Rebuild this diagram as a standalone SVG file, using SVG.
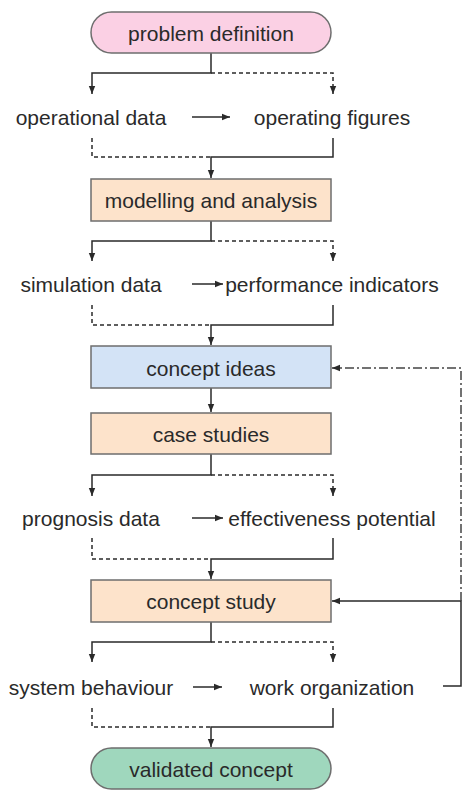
<svg xmlns="http://www.w3.org/2000/svg" width="463" height="790" viewBox="0 0 463 790">
<style>
  .lbl{font-family:"Liberation Sans",Arial,sans-serif;font-size:21px;fill:#2a2a2a;text-anchor:middle;dominant-baseline:central}
  .box{stroke:#6e6e6e;stroke-width:1.5}
  .s{fill:none;stroke:#2a2a2a;stroke-width:1.5}
  .d{fill:none;stroke:#2a2a2a;stroke-width:1.5;stroke-dasharray:4 3}
  .dd{fill:none;stroke:#444;stroke-width:1.5;stroke-dasharray:9 3 2 3}
</style>
<defs>
  <marker id="ah" markerUnits="userSpaceOnUse" markerWidth="8" markerHeight="8" viewBox="0 0 8 8" refX="8" refY="4" orient="auto">
    <path d="M0,0.8 L8,4 L0,7.2 Z" fill="#2a2a2a"/>
  </marker>
</defs>
<rect width="463" height="790" fill="#fff"/>

<g id="connectors">
  <!-- problem definition -> split -->
  <path class="s" d="M211,53 V73 H92 V94" marker-end="url(#ah)"/>
  <path class="d" d="M211,73 H333 V94" marker-end="url(#ah)"/>
  <path class="s" d="M192,117 H230" marker-end="url(#ah)"/>
  <path class="d" d="M92,138 V157 H211"/>
  <path class="s" d="M333,138 V157 H211 V178" marker-end="url(#ah)"/>

  <path class="s" d="M211,221 V241 H92 V261" marker-end="url(#ah)"/>
  <path class="d" d="M211,241 H333 V261" marker-end="url(#ah)"/>
  <path class="s" d="M192,284 H223" marker-end="url(#ah)"/>
  <path class="d" d="M92,305 V325 H211"/>
  <path class="s" d="M333,305 V325 H211 V345" marker-end="url(#ah)"/>

  <path class="s" d="M211,388 V412" marker-end="url(#ah)"/>

  <path class="s" d="M211,454 V475 H92 V496" marker-end="url(#ah)"/>
  <path class="d" d="M211,475 H333 V496" marker-end="url(#ah)"/>
  <path class="s" d="M192,518 H223" marker-end="url(#ah)"/>
  <path class="d" d="M92,538 V559 H211"/>
  <path class="s" d="M333,538 V559 H211 V579" marker-end="url(#ah)"/>

  <path class="s" d="M211,622 V642 H92 V662" marker-end="url(#ah)"/>
  <path class="d" d="M211,642 H333 V662" marker-end="url(#ah)"/>
  <path class="s" d="M193,687 H222" marker-end="url(#ah)"/>
  <path class="d" d="M92,708 V727 H211"/>
  <path class="s" d="M333,708 V727 H211 V747" marker-end="url(#ah)"/>

  <!-- feedback -->
  <path class="s" d="M443,686 H461 V601 H332" marker-end="url(#ah)"/>
  <path class="dd" d="M461,601 V368 H332" marker-end="url(#ah)"/>
</g>

<g id="problem-definition">
  <rect class="box" x="91" y="12" width="240" height="41" rx="20.5" fill="#fbd0e4"/>
  <text class="lbl" x="211" y="33">problem definition</text>
</g>
<g id="operational-data"><text class="lbl" x="91" y="117">operational data</text></g>
<g id="operating-figures"><text class="lbl" x="332" y="117">operating figures</text></g>

<g id="modelling-and-analysis">
  <rect class="box" x="91" y="179" width="240" height="42" fill="#fde3cb"/>
  <text class="lbl" x="211" y="200">modelling and analysis</text>
</g>
<g id="simulation-data"><text class="lbl" x="91" y="284">simulation data</text></g>
<g id="performance-indicators"><text class="lbl" x="332" y="284">performance indicators</text></g>

<g id="concept-ideas">
  <rect class="box" x="91" y="346" width="240" height="42" fill="#d3e3f6"/>
  <text class="lbl" x="211" y="368">concept ideas</text>
</g>

<g id="case-studies">
  <rect class="box" x="91" y="413" width="240" height="41" fill="#fde3cb"/>
  <text class="lbl" x="211" y="434">case studies</text>
</g>
<g id="prognosis-data"><text class="lbl" x="91" y="518">prognosis data</text></g>
<g id="effectiveness-potential"><text class="lbl" x="332" y="518">effectiveness potential</text></g>

<g id="concept-study">
  <rect class="box" x="91" y="580" width="240" height="42" fill="#fde3cb"/>
  <text class="lbl" x="211" y="601">concept study</text>
</g>
<g id="system-behaviour"><text class="lbl" x="91" y="687">system behaviour</text></g>
<g id="work-organization"><text class="lbl" x="332" y="687">work organization</text></g>

<g id="validated-concept">
  <rect class="box" x="91" y="748" width="240" height="41" rx="20.5" fill="#9fd7bd"/>
  <text class="lbl" x="211" y="769">validated concept</text>
</g>
</svg>
